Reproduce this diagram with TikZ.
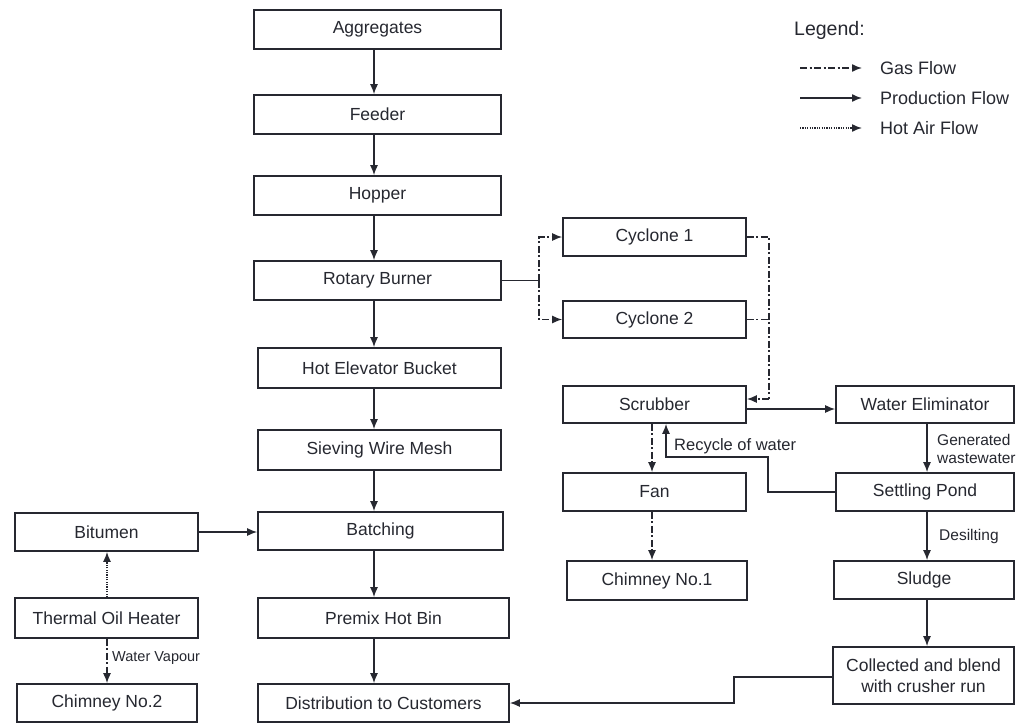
\documentclass[tikz,border=0pt]{standalone}
\usepackage{fontspec}
\setmainfont{Liberation Sans}
\usetikzlibrary{arrows.meta}
\definecolor{ink}{RGB}{38,40,48}
\begin{document}
\begin{tikzpicture}[x=1pt,y=-1pt,
  box/.style={draw=ink, line width=1.6pt, inner sep=0pt, text=ink, align=center,
    font=\fontsize{17.5}{21}\selectfont},
  lbl/.style={text=ink, inner sep=0pt, font=\fontsize{16}{18}\selectfont},
  legtxt/.style={text=ink, inner sep=0pt, font=\fontsize{18}{20}\selectfont},
  prod/.style={draw=ink, line width=1.5pt, -{Latex[length=10pt,width=8pt]}},
  gas/.style={prod, dash pattern=on 7pt off 2.5pt on 2pt off 2.5pt},
  hot/.style={prod, dash pattern=on 1.2pt off 1.2pt},
  plain/.style={draw=ink, line width=1.5pt}]
\newcommand\boxnode[6]{\node[box, minimum width={#4pt-#2pt}, minimum height={#5pt-#3pt}] (#1) at ({(#2+#4)/2},{(#3+#5)/2}) {#6};}
\useasboundingbox (0,0) rectangle (1016,725);
\fill[white] (0,0) rectangle (1016,725);
% main column
\boxnode{agg}{254}{10}{501}{49}{Aggregates}
\boxnode{feed}{254}{95}{501}{134}{Feeder}
\boxnode{hop}{254}{176}{501}{215}{Hopper}
\boxnode{burn}{254}{261}{501}{300}{Rotary Burner}
\boxnode{heb}{258}{348}{501}{388}{Hot Elevator Bucket}
\boxnode{sieve}{258}{430}{501}{470}{Sieving Wire Mesh}
\boxnode{batch}{258}{512}{503}{550}{Batching}
\boxnode{premix}{258}{598}{509}{638}{Premix Hot Bin}
\boxnode{dist}{258}{684}{509}{722}{Distribution to Customers}
% left column
\boxnode{bit}{15}{513}{198}{551}{Bitumen}
\boxnode{toh}{15}{598}{198}{638}{Thermal Oil Heater}
\boxnode{ch2}{17}{684}{197}{722}{Chimney No.2}
% gas treatment
\boxnode{cyc1}{563}{218}{746}{256}{Cyclone 1}
\boxnode{cyc2}{563}{301}{746}{338}{Cyclone 2}
\boxnode{scrub}{563}{386}{746}{423}{Scrubber}
\boxnode{fan}{563}{473}{746}{511}{Fan}
\boxnode{ch1}{567}{561}{747}{600}{Chimney No.1}
\boxnode{we}{836}{386}{1014}{423}{Water Eliminator}
\boxnode{pond}{836}{473}{1014}{511}{Settling Pond}
\boxnode{sludge}{834}{561}{1014}{599}{Sludge}
\boxnode{coll}{833}{647}{1014}{704}{Collected and blend\\with crusher run}
% main column arrows
\coordinate (mx) at (374,0);
\draw[prod] (agg.south -| mx) -- (feed.north -| mx);
\draw[prod] (feed.south -| mx) -- (hop.north -| mx);
\draw[prod] (hop.south -| mx) -- (burn.north -| mx);
\draw[prod] (burn.south -| mx) -- (heb.north -| mx);
\draw[prod] (heb.south -| mx) -- (sieve.north -| mx);
\draw[prod] (sieve.south -| mx) -- (batch.north -| mx);
\draw[prod] (batch.south -| mx) -- (premix.north -| mx);
\draw[prod] (premix.south -| mx) -- (dist.north -| mx);
% bitumen
\draw[prod] (bit.east) -- (bit.east -| batch.west);
\coordinate (tx) at (107,0);
\draw[hot] (toh.north -| tx) -- (bit.south -| tx);
\draw[gas] (toh.south -| tx) -- (ch2.north -| tx);
\node[lbl, anchor=west, font=\fontsize{14.5}{16}\selectfont] (wv) at (112,658) {Water Vapour};
% burner to cyclones
\coordinate (sp) at (539,280.5);
\draw[plain] (burn.east |- sp) -- (sp);
\draw[gas] (sp) |- (cyc1.west);
\draw[gas] (sp) |- (cyc2.west);
\coordinate (mj) at (769,399);
\draw[gas,-] (cyc1.east) -| (mj);
\draw[gas,-] (cyc2.east) -- (cyc2.east -| mj);
\draw[gas] (mj) -- (mj -| scrub.east);
% scrubber
\coordinate (se) at ([yshift=-4.5pt]scrub.east);
\draw[prod] (se) -- (se -| we.west);
\coordinate (fx) at (652,0);
\draw[gas] (scrub.south -| fx) -- (fan.north -| fx);
\draw[gas] (fan.south -| fx) -- (ch1.north -| fx);
\coordinate (r1) at (768,457);
\coordinate (r2) at (666,0);
\draw[prod] (pond.west) -| (r1) -| (scrub.south -| r2);
\node[lbl, anchor=west, font=\fontsize{16.5}{18}\selectfont] (rw) at (674,446) {Recycle of water};
% water side
\coordinate (wx) at (927,0);
\draw[prod] (we.south -| wx) -- (pond.north -| wx);
\node[lbl, anchor=west, align=left, font=\fontsize{15.5}{18}\selectfont] (gw) at (937,449) {Generated\\wastewater};
\draw[prod] (pond.south -| wx) -- (sludge.north -| wx);
\node[lbl, anchor=west, font=\fontsize{15.5}{18}\selectfont] (des) at (939,536) {Desilting};
\draw[prod] (sludge.south -| wx) -- (coll.north -| wx);
\coordinate (c1) at (734,677);
\draw[prod] (coll.west |- c1) -- (c1) |- (dist.east);
% legend
\node[text=ink, inner sep=0pt, anchor=west, font=\fontsize{19.5}{22}\selectfont] (leg) at (794,30) {Legend:};
\coordinate (l1a) at (800,68); \coordinate (l1b) at (862,68);
\coordinate (l2a) at (800,98); \coordinate (l2b) at (862,98);
\coordinate (l3a) at (800,128); \coordinate (l3b) at (862,128);
\draw[gas] (l1a) -- (l1b);
\draw[prod] (l2a) -- (l2b);
\draw[hot] (l3a) -- (l3b);
\node[legtxt, anchor=west] (lg1) at (880,68) {Gas Flow};
\node[legtxt, anchor=west] (lg2) at (880,98) {Production Flow};
\node[legtxt, anchor=west] (lg3) at (880,128) {Hot Air Flow};
\end{tikzpicture}
\end{document}
